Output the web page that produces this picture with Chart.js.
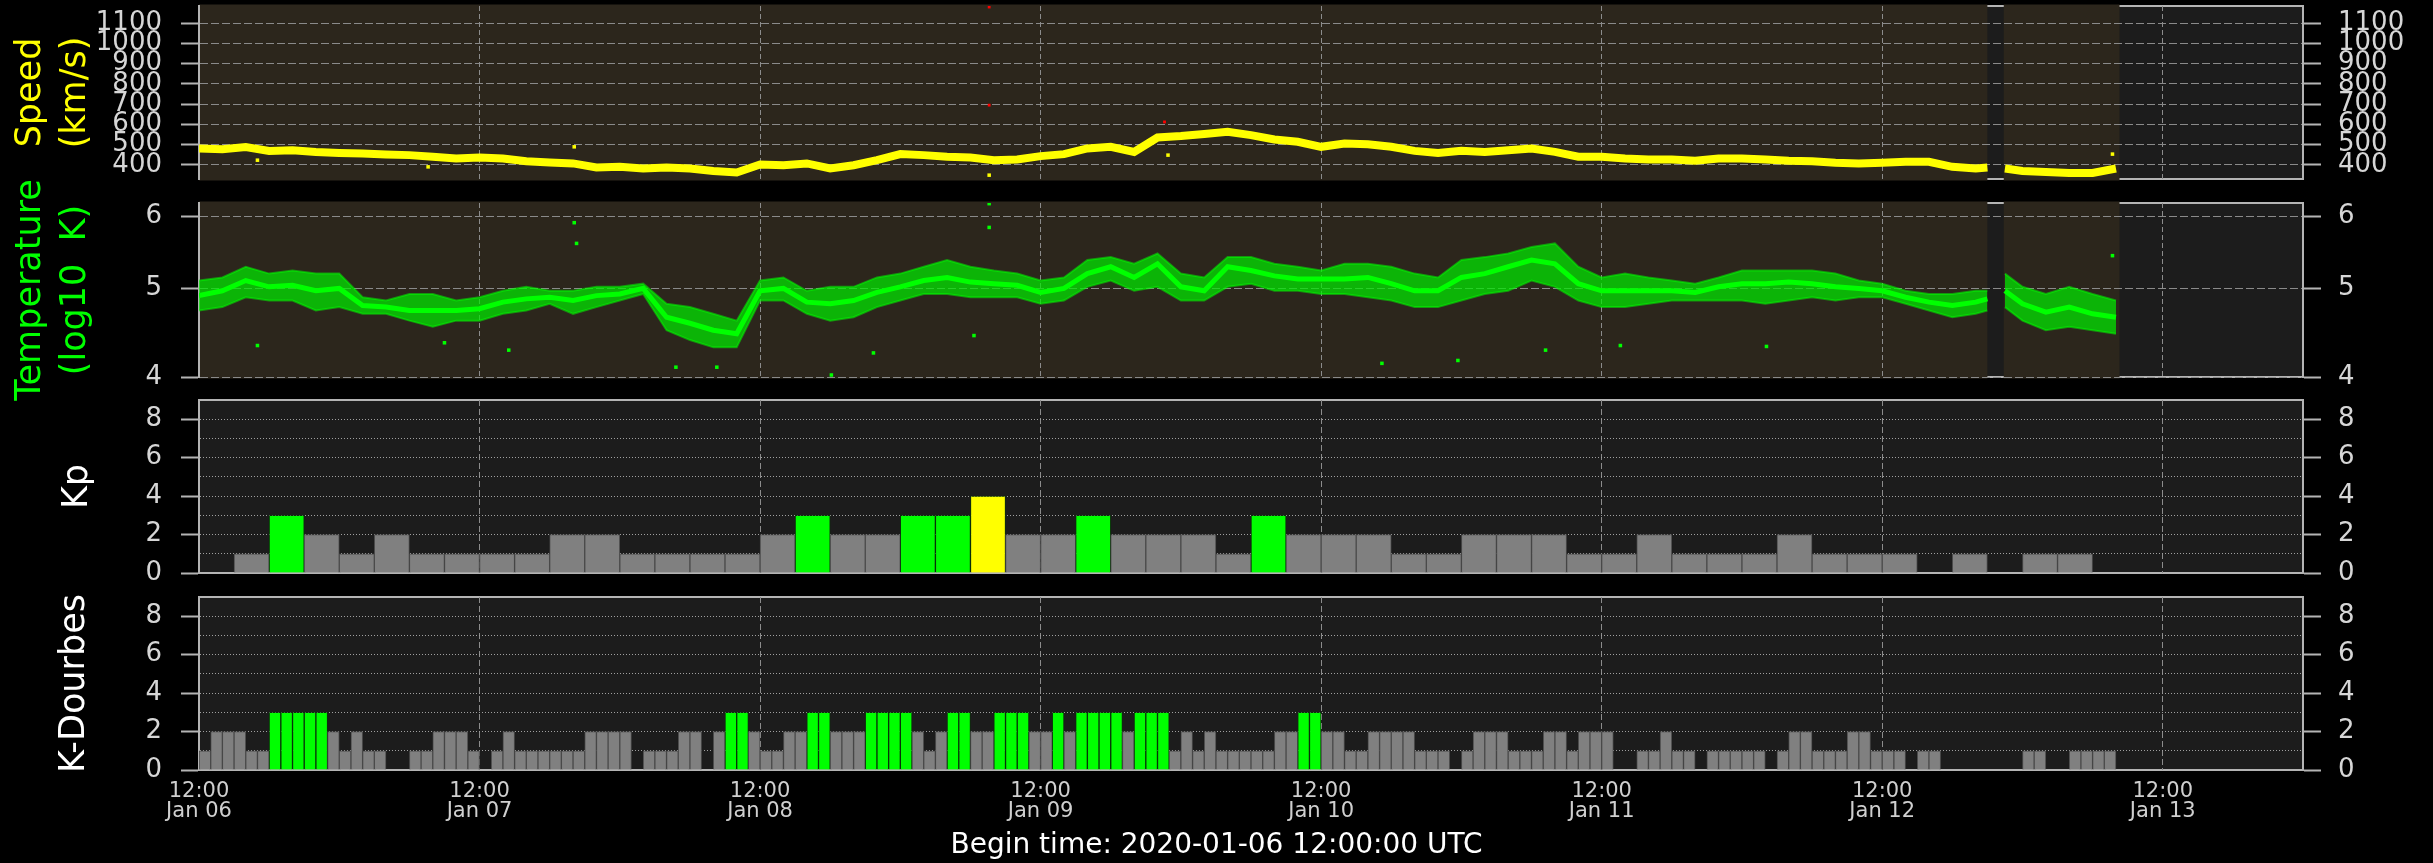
<!DOCTYPE html>
<html>
<head>
<meta charset="utf-8">
<title>Solar wind, Kp and K-Dourbes</title>
<script src="https://cdn.jsdelivr.net/npm/chart.js@4/dist/chart.umd.min.js"></script>
<style>
  body { margin: 0; background: #000; width: 2433px; height: 863px; overflow: hidden; position: relative; }
  canvas { position: absolute; left: 0; top: 0; }
  #begin { position: absolute; left: 0; width: 2433px; top: 830px; text-align: center; color: #fff;
           font-family: "DejaVu Sans"; font-size: 28px; line-height: 28px; }
</style>
</head>
<body>
<canvas id="c_speed" width="2433" height="863"></canvas>
<canvas id="c_temp" width="2433" height="863"></canvas>
<canvas id="c_kp" width="2433" height="863"></canvas>
<canvas id="c_kd" width="2433" height="863"></canvas>
<div id="begin">Begin time: 2020-01-06 12:00:00 UTC</div>
<script>
// time axis: hours since 2020-01-06 12:00 UTC
var tickHours = [0, 24, 48, 72, 96, 120, 144, 168];
var tickDates = ["Jan 06", "Jan 07", "Jan 08", "Jan 09", "Jan 10", "Jan 11", "Jan 12", "Jan 13"];

// hours covered by solar wind data (brown background)
var coverage = [[0, 153.0], [154.4, 164.3]];

// solar wind, read every ~2 h (null = data gap)
var solarHours = [0, 2, 4, 6, 8, 10, 12, 14, 16, 18, 20, 22, 24, 26, 28, 30, 32, 34, 36, 38,
  40, 42, 44, 46, 48, 50, 52, 54, 56, 58, 60, 62, 64, 66, 68, 70, 72, 74, 76, 78,
  80, 82, 84, 86, 88, 90, 92, 94, 96, 98, 100, 102, 104, 106, 108, 110, 112, 114, 116, 118,
  120, 122, 124, 126, 128, 130, 132, 134, 136, 138, 140, 142, 144, 146, 148, 150, 152, 153, 153.7,
  154.5, 156, 158, 160, 162, 164];

var speedKms = [481, 477, 488, 469, 472, 464, 459, 456, 451, 448, 440, 431, 436, 431, 418, 412, 407, 387, 390, 382,
  387, 382, 370, 362, 402, 398, 407, 382, 398, 423, 453, 448, 440, 436, 423, 426, 443, 453, 481, 489,
  464, 535, 542, 552, 563, 547, 525, 514, 489, 505, 502, 489, 469, 459, 469, 464, 472, 481, 464, 440,
  440, 431, 426, 426, 420, 431, 431, 426, 420, 418, 410, 407, 410, 415, 415, 390, 382, 387, null,
  382, 370, 365, 360, 360, 382];

var tempHigh = [5.10, 5.14, 5.28, 5.19, 5.23, 5.19, 5.19, 4.89, 4.85, 4.93, 4.93, 4.85, 4.89, 4.97, 5.02, 4.97, 4.97, 5.02, 5.02, 5.06,
  4.81, 4.77, 4.69, 4.61, 5.10, 5.14, 4.97, 5.02, 5.02, 5.14, 5.19, 5.28, 5.37, 5.28, 5.23, 5.19, 5.10, 5.14, 5.37, 5.41,
  5.32, 5.46, 5.19, 5.14, 5.41, 5.41, 5.32, 5.28, 5.23, 5.32, 5.32, 5.28, 5.19, 5.14, 5.37, 5.41, 5.46, 5.55, 5.60, 5.28,
  5.14, 5.19, 5.14, 5.10, 5.06, 5.14, 5.23, 5.23, 5.23, 5.23, 5.19, 5.10, 5.06, 4.97, 4.93, 4.93, 4.97, 4.97, null,
  5.19, 5.02, 4.93, 5.02, 4.93, 4.85];

var tempMid = [4.91, 4.97, 5.10, 5.02, 5.04, 4.97, 5.00, 4.79, 4.77, 4.73, 4.73, 4.73, 4.75, 4.83, 4.87, 4.89, 4.85, 4.91, 4.93, 5.00,
  4.65, 4.58, 4.50, 4.46, 4.97, 5.00, 4.83, 4.81, 4.85, 4.95, 5.02, 5.10, 5.14, 5.08, 5.06, 5.04, 4.95, 5.00, 5.19, 5.28,
  5.14, 5.32, 5.02, 4.97, 5.28, 5.23, 5.16, 5.12, 5.12, 5.12, 5.14, 5.06, 4.97, 4.97, 5.14, 5.19, 5.28, 5.37, 5.32, 5.06,
  4.97, 4.97, 4.97, 4.97, 4.95, 5.02, 5.06, 5.06, 5.08, 5.06, 5.02, 5.00, 4.97, 4.89, 4.83, 4.79, 4.83, 4.87, null,
  4.97, 4.81, 4.71, 4.77, 4.69, 4.65];

var tempLow = [4.73, 4.77, 4.89, 4.85, 4.85, 4.73, 4.77, 4.69, 4.69, 4.61, 4.54, 4.61, 4.61, 4.69, 4.73, 4.81, 4.69, 4.77, 4.85, 4.93,
  4.50, 4.39, 4.31, 4.31, 4.85, 4.85, 4.69, 4.61, 4.65, 4.77, 4.85, 4.93, 4.93, 4.89, 4.89, 4.89, 4.81, 4.85, 5.02, 5.10,
  4.97, 5.02, 4.85, 4.85, 5.02, 5.06, 4.97, 4.97, 4.93, 4.93, 4.89, 4.85, 4.77, 4.77, 4.85, 4.93, 4.97, 5.10, 5.02, 4.85,
  4.77, 4.77, 4.81, 4.85, 4.85, 4.85, 4.85, 4.81, 4.85, 4.89, 4.85, 4.89, 4.89, 4.81, 4.73, 4.65, 4.69, 4.73, null,
  4.77, 4.61, 4.50, 4.54, 4.50, 4.46];

// isolated points away from the main cloud [hour, value]
var speedStray = [[5.0, 423], [19.6, 390], [32.1, 489], [67.6, 349], [82.9, 448], [163.7, 453]];
var speedFlagged = [[67.6, 1180], [67.6, 695], [82.6, 612]];
var tempStray = [[32.1, 5.90], [32.3, 5.60], [5.0, 4.33], [21.0, 4.36], [26.5, 4.28], [40.8, 4.10], [44.3, 4.10],
  [54.1, 4.02], [57.7, 4.25], [66.3, 4.44], [67.6, 6.19], [67.6, 5.83], [101.2, 4.14], [107.7, 4.17],
  [115.2, 4.28], [121.6, 4.33], [134.1, 4.32], [163.7, 5.43]];

// Kp, one value per 3 h slot
var kpValues = [0, 1, 3, 2, 1, 2, 1, 1, 1, 1, 2, 2, 1, 1, 1, 1, 2, 3, 2, 2, 3, 3, 4, 2, 2, 3, 2, 2, 2, 1,
  3, 2, 2, 2, 1, 1, 2, 2, 2, 1, 1, 2, 1, 1, 1, 2, 1, 1, 1, 0, 1, 0, 1, 1];

// K-Dourbes, one value per hour
var kdValues = [1, 2, 2, 2, 1, 1, 3, 3, 3, 3, 3, 2, 1, 2, 1, 1, 0, 0, 1, 1, 2, 2, 2, 1,
  0, 1, 2, 1, 1, 1, 1, 1, 1, 2, 2, 2, 2, 0, 1, 1, 1, 2, 2, 0, 2, 3, 3, 2,
  1, 1, 2, 2, 3, 3, 2, 2, 2, 3, 3, 3, 3, 2, 1, 2, 3, 3, 2, 2, 3, 3, 3, 2,
  2, 3, 2, 3, 3, 3, 3, 2, 3, 3, 3, 1, 2, 1, 2, 1, 1, 1, 1, 1, 2, 2, 3, 3,
  2, 2, 1, 1, 2, 2, 2, 2, 1, 1, 1, 0, 1, 2, 2, 2, 1, 1, 1, 2, 2, 1, 2, 2,
  2, 0, 0, 1, 1, 2, 1, 1, 0, 1, 1, 1, 1, 1, 0, 1, 2, 2, 1, 1, 1, 2, 2, 1,
  1, 1, 0, 1, 1, 0, 0, 0, 0, 0, 0, 0, 1, 1, 0, 0, 1, 1, 1, 1];

Chart.defaults.font.family = "DejaVu Sans";
Chart.defaults.animation = false;

var FRAME = "#b4b4b4";
var LABEL = "#d6d6d6";

function pts(xs, ys) {
  return xs.map(function (x, i) { return { x: x, y: ys[i] }; });
}
function pairs(list) {
  return list.map(function (p) { return { x: p[0], y: p[1] }; });
}

function bgPlugin(brown) {
  return {
    id: "panelBg",
    beforeDraw: function (chart) {
      var a = chart.chartArea, ctx = chart.ctx, xs = chart.scales.x;
      ctx.save();
      ctx.fillStyle = "#1c1c1c";
      ctx.fillRect(a.left, a.top, a.right - a.left, a.bottom - a.top);
      ctx.strokeStyle = FRAME;
      ctx.lineWidth = 2;
      ctx.strokeRect(a.left, a.top, a.right - a.left, a.bottom - a.top);
      if (brown) {
        ctx.fillStyle = "#2c261c";
        coverage.forEach(function (c) {
          var x1 = xs.getPixelForValue(c[0]), x2 = xs.getPixelForValue(c[1]);
          ctx.fillRect(x1, a.top - 1.5, x2 - x1, a.bottom - a.top + 3);
        });
      }
      ctx.restore();
    }
  };
}

function xScale(showLabels, dash) {
  return {
    type: "linear", min: 0, max: 180, offset: false,
    afterBuildTicks: function (s) { s.ticks = tickHours.map(function (v) { return { value: v }; }); },
    afterFit: function (s) { s.height = showLabels ? 70 : 0; s.paddingLeft = 0; s.paddingRight = 0; },
    grid: { color: "#8c8c8c", lineWidth: 1, drawTicks: false, offset: false },
    border: { display: false, dash: dash },
    ticks: {
      display: showLabels, padding: 12, color: "#cfcfcf", autoSkip: false, maxRotation: 0,
      font: { size: 21, lineHeight: 0.95 },
      callback: function (v) { return ["12:00", tickDates[tickHours.indexOf(v)]]; }
    }
  };
}

function yScale(pos, cfg) {
  var left = pos === "left";
  return {
    type: cfg.type || "linear", position: pos, min: cfg.min, max: cfg.max,
    afterBuildTicks: function (s) { s.ticks = cfg.ticks.map(function (v) { return { value: v }; }); },
    afterFit: function (s) { s.width = left ? 199 : 130; s.paddingTop = 0; s.paddingBottom = 0; },
    grid: {
      drawOnChartArea: left, color: cfg.gridColor, lineWidth: 1,
      tickLength: 18, tickWidth: 2, tickColor: cfg.tickColor || FRAME, tickBorderDash: []
    },
    border: { display: true, color: FRAME, width: 2, dash: cfg.dash },
    ticks: {
      autoSkip: false, padding: left ? 19 : 17, color: LABEL, font: { size: 26 },
      callback: cfg.label || function (v) { return String(v); }
    },
    title: left ? {
      display: true, text: cfg.title, color: cfg.titleColor,
      font: { size: 35, lineHeight: 1.3 }, padding: { top: cfg.titlePad, bottom: 0 }
    } : { display: false }
  };
}

function baseOptions(top, bottom, xs, ycfg) {
  return {
    responsive: false,
    devicePixelRatio: 1,
    events: [],
    layout: { padding: { top: top, bottom: bottom, left: 0, right: 0 } },
    plugins: { legend: { display: false }, tooltip: { enabled: false } },
    scales: { x: xs, y: yScale("left", ycfg), y2: yScale("right", ycfg) }
  };
}

// ---- speed ----
var speedCfg = {
  min: 330, max: 1185, ticks: [400, 500, 600, 700, 800, 900, 1000, 1100],
  gridColor: "#8a8a8a", dash: [8, 3], title: ["Speed", "(km/s)"], titleColor: "#ffff00", titlePad: 8
};
new Chart(document.getElementById("c_speed"), {
  type: "line",
  data: {
    datasets: [
      { data: pts(solarHours, speedKms), borderColor: "#ffff00", borderWidth: 8, pointRadius: 0, spanGaps: false, yAxisID: "y" },
      { data: pairs(speedStray), showLine: false, pointStyle: "rect", pointRadius: 2.5, borderWidth: 0, backgroundColor: "#ffff00", yAxisID: "y" },
      { data: pairs(speedFlagged), showLine: false, pointStyle: "rect", pointRadius: 2, borderWidth: 0, backgroundColor: "#ff0000", yAxisID: "y" }
    ]
  },
  options: baseOptions(6, 684, xScale(false, [5, 3]), speedCfg),
  plugins: [bgPlugin(true)]
});

// ---- temperature ----
var tempCfg = {
  type: "logarithmic", min: 4, max: 6.2, ticks: [4, 5, 6],
  gridColor: "#8a8a8a", dash: [8, 3], title: ["Temperature", "(log10  K)"], titleColor: "#00ff00", titlePad: 8
};
new Chart(document.getElementById("c_temp"), {
  type: "line",
  data: {
    datasets: [
      { data: pts(solarHours, tempMid), borderColor: "#00ff00", borderWidth: 5, pointRadius: 0, spanGaps: false },
      { data: pts(solarHours, tempHigh), borderColor: "rgba(0,255,0,0.5)", borderWidth: 2, pointRadius: 0, spanGaps: false, fill: false },
      { data: pts(solarHours, tempLow), borderColor: "rgba(0,255,0,0.5)", borderWidth: 2, pointRadius: 0, spanGaps: false, fill: "-1", backgroundColor: "rgba(0,235,0,0.72)" },
      { data: pairs(tempStray), showLine: false, pointStyle: "rect", pointRadius: 2.5, borderWidth: 0, backgroundColor: "#00ff00" }
    ]
  },
  options: baseOptions(203, 486, xScale(false, [5, 3]), tempCfg),
  plugins: [bgPlugin(true)]
});

// ---- K index panels ----
function kColor(v) {
  if (v >= 4) return "#ffff00";
  if (v >= 3) return "#00ff00";
  return "#808080";
}
function kCfg(title, pad) {
  return {
    min: 0, max: 9, ticks: [0, 1, 2, 3, 4, 5, 6, 7, 8],
    gridColor: function (c) { return c.tick && c.tick.value === 0 ? "rgba(0,0,0,0)" : "#a0a0a0"; },
    tickColor: function (c) { return c.tick && c.tick.value % 2 === 0 ? FRAME : "rgba(0,0,0,0)"; },
    label: function (v) { return v % 2 === 0 ? String(v) : ""; },
    dash: [1, 2], title: title, titleColor: "#ffffff", titlePad: pad
  };
}
function kBars(values, width) {
  return {
    data: values.map(function (v, i) { return { x: i * width + width / 2, y: v }; }),
    backgroundColor: function (c) { return kColor(c.raw.y); },
    borderColor: function (c) { return c.raw.y >= 3 ? "rgba(0,60,0,0.6)" : "#4a4a4a"; },
    borderWidth: 1, barPercentage: 1, categoryPercentage: 1
  };
}

new Chart(document.getElementById("c_kp"), {
  type: "bar",
  data: { datasets: [kBars(kpValues, 3)] },
  options: baseOptions(400, 290, xScale(false, [6, 3]), kCfg("Kp", 55)),
  plugins: [bgPlugin(false)]
});

new Chart(document.getElementById("c_kd"), {
  type: "bar",
  data: { datasets: [kBars(kdValues, 1)] },
  options: baseOptions(597, 23, xScale(true, [6, 3]), kCfg("K-Dourbes", 52)),
  plugins: [bgPlugin(false)]
});
</script>
</body>
</html>
